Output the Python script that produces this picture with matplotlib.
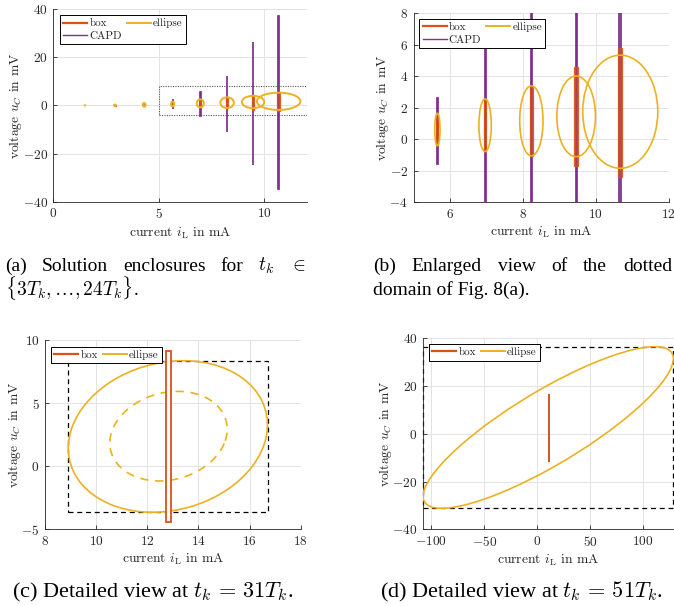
import numpy as np
import matplotlib
matplotlib.use('Agg')
import matplotlib.pyplot as plt
from matplotlib.patches import Ellipse, Rectangle
from matplotlib.lines import Line2D
from matplotlib.colors import to_rgba

# ---------------- data ----------------
# enclosures at t_k = 3T, 6T, ..., 24T  (panels a, b)
steps = [3, 6, 9, 12, 15, 18, 21, 24]
ell_cx = [1.50, 2.92, 4.30, 5.65, 6.96, 8.23, 9.46, 10.67]
ell_cy = [0.08, 0.12, 0.30, 0.62, 0.89, 1.17, 1.46, 1.75]
ell_rx = [0.02, 0.04, 0.06, 0.073, 0.17, 0.32, 0.53, 1.03]
ell_ry = [0.10, 0.30, 0.75, 1.03, 1.67, 2.22, 2.56, 3.59]

box_xlo = [1.48, 2.89, 4.27, 5.62, 6.93, 8.19, 9.41, 10.60]
box_xhi = [1.52, 2.95, 4.33, 5.68, 6.99, 8.27, 9.52, 10.73]
box_ylo = [0.00, -0.15, -0.40, -0.35, -0.75, -1.05, -1.67, -2.37]
box_yhi = [0.15, 0.40, 1.00, 1.60, 2.50, 3.35, 4.57, 5.82]

capd_xlo = [1.495, 2.915, 4.295, 5.645, 6.945, 8.215, 9.445, 10.63]
capd_xhi = [1.505, 2.925, 4.305, 5.655, 6.975, 8.245, 9.475, 10.70]
capd_ylo = [0.00, -0.20, -0.60, -1.59, -4.5, -10.9, -24.6, -34.6]
capd_yhi = [0.15, 0.45, 1.20, 2.65, 5.8, 12.4, 26.4, 37.2]

zoom_domain = [5.0, 12.0, -4.0, 8.0]   # dotted domain in (a)

# t_k = 31 T (panel c)
c_center = [12.805, 2.355]
c_Q = [[15.17, 3.6], [3.6, 36.06]]
c_center_in = [12.83, 2.38]
c_Q_in = [[5.27, 1.26], [1.26, 12.6]]
c_box = [12.72, 12.92, -4.44, 9.155]
c_bbox = [8.91, 16.71, -3.65, 8.36]

# t_k = 51 T (panel d)
d_center = [10.5, 2.65]
d_Q = [[13924.0, 3400.0], [3400.0, 1146.0]]
d_box = [10.9, 11.1, -12.0, 16.8]
d_bbox = [-107.5, 128.5, -31.2, 36.5]

# ---------------- style ----------------
C_BOX = '#D95319'
C_ELL = '#EDB120'
C_CAPD = '#7E2F8E'
AX_COL = '#262626'

plt.rcParams['font.family'] = ['cmr10', 'DejaVu Sans']
plt.rcParams['mathtext.fontset'] = 'cm'
plt.rcParams['axes.formatter.use_mathtext'] = True
plt.rcParams['axes.unicode_minus'] = True

W, H = 674, 606
fig = plt.figure(figsize=(W / 100, H / 100), dpi=100)


def add_ax(l, r, t, b):
    return fig.add_axes([l / W, 1 - b / H, (r - l) / W, (b - t) / H])


def style(ax):
    for s in ['top', 'right']:
        ax.spines[s].set_visible(False)
    for s in ['left', 'bottom']:
        ax.spines[s].set_color(AX_COL)
        ax.spines[s].set_linewidth(0.6)
    ax.tick_params(direction='in', length=3, width=0.6, colors=AX_COL,
                   labelsize=9.6, pad=4)
    ax.grid(True, color='#e3e3e3', lw=0.7)
    ax.set_axisbelow(True)
    ax.set_xlabel(r'current $i_\mathrm{L}$ in mA', fontsize=9.8, color=AX_COL, labelpad=3)
    ax.set_ylabel(r'voltage $u_C$ in mV', fontsize=9.8, color=AX_COL, labelpad=-1)


def q_ellipse(c, Q, **kw):
    w, v = np.linalg.eigh(np.array(Q))
    ang = np.degrees(np.arctan2(v[1, 1], v[0, 1]))
    return Ellipse(c, 2 * np.sqrt(w[1]), 2 * np.sqrt(w[0]), angle=ang, **kw)


def legend(ax, anchor, three=True):
    hb = Line2D([], [], color=C_BOX, lw=1.6)
    he = Line2D([], [], color=C_ELL, lw=1.4)
    if three:
        hc = Line2D([], [], color=C_CAPD, lw=1.0)
        handles, labels = [hb, hc, he], ['box', 'CAPD', 'ellipse']
    else:
        handles, labels = [hb, he], ['box', 'ellipse']
    lg = ax.legend(handles, labels, loc='upper left', bbox_to_anchor=anchor,
                   ncol=2, fontsize=8, frameon=True, fancybox=False,
                   edgecolor='black', framealpha=1, borderpad=0.3,
                   handlelength=2.15, handletextpad=0.2, columnspacing=0.45,
                   labelspacing=0.25, borderaxespad=0)
    lg.get_frame().set_linewidth(0.7)
    for t in lg.get_texts():
        t.set_color(AX_COL)


def draw_steps(ax, lw_e):
    for i in range(len(steps)):
        ax.add_patch(Rectangle((capd_xlo[i], capd_ylo[i]), capd_xhi[i] - capd_xlo[i],
                               capd_yhi[i] - capd_ylo[i], facecolor=to_rgba(C_CAPD, 0.35),
                               edgecolor=C_CAPD, lw=1.25, zorder=2))
        ax.add_patch(Rectangle((box_xlo[i], box_ylo[i]), box_xhi[i] - box_xlo[i],
                               box_yhi[i] - box_ylo[i], facecolor=to_rgba(C_BOX, 0.5),
                               edgecolor=to_rgba(C_BOX, 0.9), lw=0.9, zorder=3))
        ax.add_patch(Ellipse((ell_cx[i], ell_cy[i]), 2 * ell_rx[i], 2 * ell_ry[i],
                             fill=False, edgecolor=C_ELL, lw=lw_e, zorder=4))


# ---- (a)
axa = add_ax(53.3, 306.7, 9.3, 201.7)
style(axa)
draw_steps(axa, 1.4)
x0, x1, y0, y1 = zoom_domain
axa.add_patch(Rectangle((x0, y0), x1 - x0, y1 - y0, fill=False, edgecolor='#555555',
                        lw=0.8, ls=(0, (1, 1.2)), zorder=5))
axa.set_xlim(0, 12)
axa.set_ylim(-40, 40)
axa.set_xticks([0, 5, 10])
axa.set_yticks([-40, -20, 0, 20, 40])
legend(axa, (0.026, 0.970))

# ---- (b)
axb = add_ax(413.7, 668.7, 13.3, 202.3)
style(axb)
draw_steps(axb, 1.2)
axb.set_xlim(5, 12)
axb.set_ylim(-4, 8)
axb.set_xticks([6, 8, 10, 12])
axb.set_yticks([-4, -2, 0, 2, 4, 6, 8])
legend(axb, (0.022, 0.970))

# ---- (c)
axc = add_ax(45, 300.7, 340, 529.3)
style(axc)
x0, x1, y0, y1 = c_bbox
axc.add_patch(Rectangle((x0, y0), x1 - x0, y1 - y0, fill=False, edgecolor='black',
                        lw=0.9, ls=(0, (4, 3)), zorder=2))
axc.add_patch(q_ellipse(c_center, c_Q, fill=False, edgecolor=C_ELL, lw=1.2, zorder=3))
axc.add_patch(q_ellipse(c_center_in, c_Q_in, fill=False, edgecolor=C_ELL, lw=1.2,
                        ls=(0, (5, 4)), zorder=3))
x0, x1, y0, y1 = c_box
axc.add_patch(Rectangle((x0, y0), x1 - x0, y1 - y0, facecolor='white',
                        edgecolor=C_BOX, lw=1.3, zorder=6))
axc.set_xlim(8, 18)
axc.set_ylim(-5, 10)
axc.set_xticks([8, 10, 12, 14, 16, 18])
axc.set_yticks([-5, 0, 5, 10])
legend(axc, (0.023, 0.965), three=False)

# ---- (d)
axd = add_ax(423, 673.5, 338.3, 529.3)
style(axd)
x0, x1, y0, y1 = d_bbox
axd.add_patch(Rectangle((x0, y0), x1 - x0, y1 - y0, fill=False, edgecolor='black',
                        lw=0.9, ls=(0, (4, 3)), zorder=2, clip_on=False))
axd.add_patch(q_ellipse(d_center, d_Q, fill=False, edgecolor=C_ELL, lw=1.2, zorder=3))
x0, x1, y0, y1 = d_box
axd.add_patch(Rectangle((x0, y0), x1 - x0, y1 - y0, facecolor=C_BOX,
                        edgecolor=C_BOX, lw=1.4, zorder=4))
axd.set_xlim(-107.6, 128.6)
axd.set_ylim(-40, 40)
axd.set_xticks([-100, -50, 0, 50, 100])
axd.set_yticks([-40, -20, 0, 20, 40])
legend(axd, (0.024, 0.970), three=False)

# ---------------- captions ----------------
CAP = dict(family=['Liberation Serif', 'DejaVu Serif'], fontsize=14,
           math_fontfamily='cm', color='black', va='baseline')
CAP2 = dict(CAP, fontsize=16)
renderer = fig.canvas.get_renderer()


def justified(words, xl, xr, yb):
    ts = [fig.text(0, 1 - yb / H, w, ha='left', **CAP) for w in words]
    widths = [t.get_window_extent(renderer).width for t in ts]
    gap = (xr - xl - sum(widths)) / (len(words) - 1)
    x = xl
    for t, w in zip(ts, widths):
        t.set_x(x / W)
        x += w + gap


justified(['(a)', 'Solution', 'enclosures', 'for', r'$t_k$', r'$\in$'], 5, 306, 271)
fig.text(5 / W, 1 - 295 / H, r'$\{3T_k, \ldots, 24T_k\}$.', ha='left', **CAP)
justified(['(b)', 'Enlarged', 'view', 'of', 'the', 'dotted'], 373, 672, 271)
fig.text(373 / W, 1 - 295 / H, 'domain of Fig. 8(a).', ha='left', **CAP)
fig.text(153 / W, 1 - 597 / H, r'(c) Detailed view at $t_k \,=\, 31T_k$.', ha='center', **CAP2)
fig.text(521 / W, 1 - 597 / H, r'(d) Detailed view at $t_k \,=\, 51T_k$.', ha='center', **CAP2)

fig.savefig('out.png', dpi=100)
